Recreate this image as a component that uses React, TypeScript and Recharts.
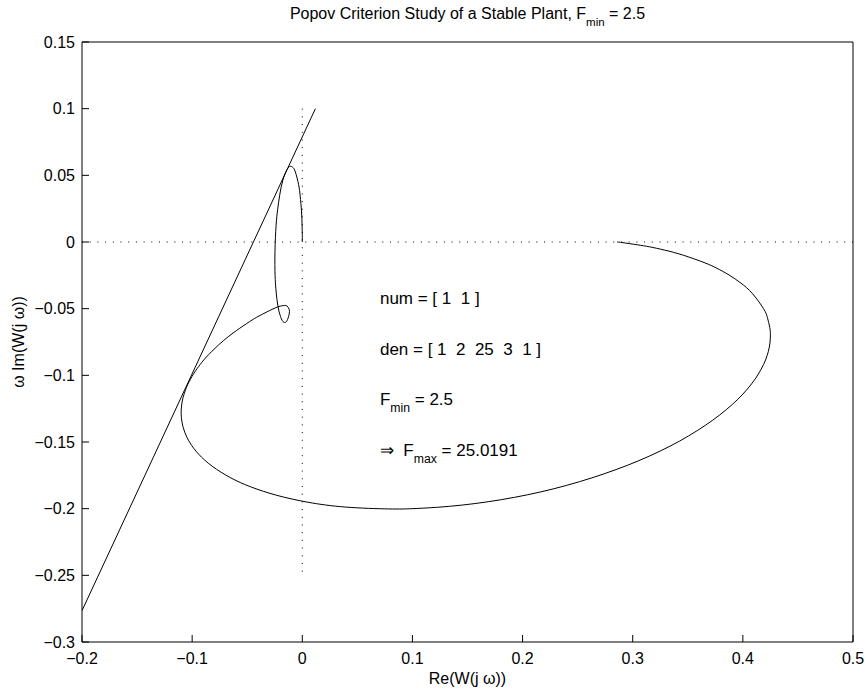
import React from 'react';
import { ComposedChart, Line, XAxis, YAxis, ReferenceLine, ReferenceDot } from 'recharts';

// Popov locus: Re(W(jw)) and w*Im(W(jw))
const popovRe = [0.2857, 0.2902, 0.3042, 0.3152, 0.3291, 0.3459, 0.3657, 0.3764, 0.3874, 0.3983, 0.4085, 0.4187, 0.4223, 0.4245, 0.425, 0.4246, 0.4232, 0.4206, 0.4166, 0.4112, 0.4042, 0.3955, 0.385, 0.3727, 0.3585, 0.3426, 0.3249, 0.3056, 0.2848, 0.2629, 0.2401, 0.2166, 0.1927, 0.1688, 0.1452, 0.1221, 0.0998, 0.0784, 0.0393, 0.0053, -0.0231, -0.0463, -0.0647, -0.0819, -0.094, -0.1019, -0.1067, -0.1092, -0.11, -0.1095, -0.1082, -0.1062, -0.1039, -0.0985, -0.0927, -0.087, -0.0764, -0.0673, -0.0596, -0.0478, -0.0393, -0.0266, -0.02, -0.0162, -0.0139, -0.0119, -0.012, -0.0139, -0.0157, -0.0182, -0.0212, -0.023, -0.024, -0.0247, -0.0248, -0.0238, -0.0224, -0.0206, -0.0176, -0.0127, -0.0089, -0.0063, -0.0033, -0.0019, -0.0007, -0.0002, 0, 0];
const popovIm = [0, -0.0004, -0.0021, -0.0036, -0.0061, -0.0099, -0.0157, -0.0197, -0.0247, -0.0309, -0.0385, -0.0499, -0.0567, -0.0643, -0.0698, -0.0757, -0.0819, -0.0885, -0.0954, -0.1027, -0.1102, -0.1179, -0.1257, -0.1336, -0.1415, -0.1493, -0.1568, -0.164, -0.1707, -0.1769, -0.1825, -0.1874, -0.1915, -0.1948, -0.1973, -0.199, -0.2, -0.2002, -0.1988, -0.1952, -0.19, -0.1838, -0.177, -0.1681, -0.1592, -0.1507, -0.1427, -0.1352, -0.1284, -0.1222, -0.1165, -0.1114, -0.1067, -0.0986, -0.0919, -0.0862, -0.0775, -0.0711, -0.0663, -0.0597, -0.0555, -0.0502, -0.0481, -0.0476, -0.048, -0.0504, -0.0545, -0.0591, -0.0603, -0.0589, -0.0518, -0.0431, -0.035, -0.0249, -0.007, 0.0122, 0.0242, 0.0347, 0.0465, 0.0558, 0.0562, 0.0526, 0.0429, 0.0344, 0.0233, 0.0128, 0.0049, 0];

// Popov line
const lineRe = [-0.2, 0.0119];
const lineIm = [-0.2765, 0.1];

// dotted axes through the origin
const hDotRe = [-0.2, 0.5];
const vDotIm = [0.1, -0.25];

const xTicks = [-0.2, -0.1, 0, 0.1, 0.2, 0.3, 0.4, 0.5];
const xTickLabels = ['\u22120.2', '\u22120.1', '0', '0.1', '0.2', '0.3', '0.4', '0.5'];
const yTicks = [0.15, 0.1, 0.05, 0, -0.05, -0.1, -0.15, -0.2, -0.25, -0.3];
const yTickLabels = ['0.15', '0.1', '0.05', '0', '\u22120.05', '\u22120.1', '\u22120.15', '\u22120.2', '\u22120.25', '\u22120.3'];

// annotations
type Part = { t: string; sub?: boolean };
const noteRe = [0.0705, 0.0705, 0.0705, 0.0705];
const noteIm = [-0.042, -0.08, -0.118, -0.156];
const noteTexts: Part[][] = [
  [{ t: 'num = [ 1  1 ]' }],
  [{ t: 'den = [ 1  2  25  3  1 ]' }],
  [{ t: 'F' }, { t: 'min', sub: true }, { t: ' = 2.5' }],
  [{ t: '\u21D2  F' }, { t: 'max', sub: true }, { t: ' = 25.0191' }],
];
const titleParts: Part[] = [{ t: 'Popov Criterion Study of a Stable Plant, F' }, { t: 'min', sub: true }, { t: ' = 2.5' }];
const xLabel = 'Re(W(j \u03C9))';
const yLabel = '\u03C9 Im(W(j \u03C9))';

const FONT = '"Liberation Sans", Arial, Helvetica, sans-serif';
const FS = 16;
const NOTE_FS = 17;

const curveData = popovRe.map((x, i) => ({ x, y: popovIm[i] }));
const lineData = lineRe.map((x, i) => ({ x, y: lineIm[i] }));

function rich(parts: Part[], x: number, y: number, anchor: 'start' | 'middle' | 'end', size: number) {
  let prevSub = false;
  const off = Math.round(size * 0.42);
  return (
    <text x={x} y={y} textAnchor={anchor} fontSize={size} fontFamily={FONT} fill="#000" style={{ whiteSpace: 'pre' }}>
      {parts.map((p, i) => {
        const sub = !!p.sub;
        const dy = sub && !prevSub ? off : !sub && prevSub ? -off : 0;
        prevSub = sub;
        return (
          <tspan key={i} dy={dy} fontSize={sub ? size * 0.72 : size}>
            {p.t}
          </tspan>
        );
      })}
    </text>
  );
}

const fmtX = (v: number) => {
  const i = xTicks.findIndex((t) => Math.abs(t - v) < 1e-9);
  return i >= 0 ? xTickLabels[i] : String(v);
};
const fmtY = (v: number) => {
  const i = yTicks.findIndex((t) => Math.abs(t - v) < 1e-9);
  return i >= 0 ? yTickLabels[i] : String(v);
};

export default function App() {
  const tickStyle = { fontSize: FS, fontFamily: FONT, fill: '#000' };
  return (
    <div style={{ position: 'absolute', left: 0, top: 0, background: '#fff' }}>
      <ComposedChart width={866} height={690} margin={{ top: 41, right: 12, bottom: 0, left: 22 }}>
        <XAxis
          xAxisId={0}
          dataKey="x"
          type="number"
          domain={[-0.2, 0.5]}
          ticks={xTicks}
          interval={0}
          allowDataOverflow
          tickFormatter={fmtX}
          tickSize={-7}
          tickMargin={18}
          height={48}
          stroke="#000"
          tick={tickStyle}
          label={{
            content: (p: any) => {
              const vb = p.viewBox;
              return rich([{ t: xLabel }], vb.x + vb.width / 2, vb.y + 42, 'middle', FS);
            },
          }}
        />
        <XAxis
          xAxisId="top"
          orientation="top"
          dataKey="x"
          type="number"
          domain={[-0.2, 0.5]}
          ticks={xTicks}
          interval={0}
          allowDataOverflow
          tick={false}
          tickSize={-7}
          height={1}
          stroke="#000"
          label={{
            content: (p: any) => {
              const vb = p.viewBox;
              return rich(titleParts, vb.x + vb.width / 2, vb.y - 22, 'middle', FS);
            },
          }}
        />
        <YAxis
          yAxisId={0}
          type="number"
          domain={[-0.3, 0.15]}
          ticks={yTicks}
          interval={0}
          allowDataOverflow
          tickFormatter={fmtY}
          tickSize={-7}
          tickMargin={14}
          width={60}
          stroke="#000"
          tick={tickStyle}
          label={{
            content: (p: any) => {
              const vb = p.viewBox;
              const cx = 18;
              const cy = vb.y + vb.height / 2;
              return (
                <text
                  x={cx}
                  y={cy}
                  transform={`rotate(-90 ${cx} ${cy})`}
                  textAnchor="middle"
                  dominantBaseline="central"
                  fontSize={FS}
                  fontFamily={FONT}
                  fill="#000"
                >
                  {yLabel}
                </text>
              );
            },
          }}
        />
        <YAxis
          yAxisId="right"
          orientation="right"
          type="number"
          domain={[-0.3, 0.15]}
          ticks={yTicks}
          interval={0}
          allowDataOverflow
          tick={false}
          tickSize={-7}
          width={1}
          stroke="#000"
        />
        <ReferenceLine
          segment={[{ x: hDotRe[0], y: 0 }, { x: hDotRe[1], y: 0 }]}
          stroke="#000"
          strokeDasharray="1 6.7"
          ifOverflow="visible"
        />
        <ReferenceLine
          segment={[{ x: 0, y: vDotIm[0] }, { x: 0, y: vDotIm[1] }]}
          stroke="#000"
          strokeDasharray="1 6.7"
          ifOverflow="visible"
        />
        <Line
          data={lineData}
          dataKey="y"
          type="linear"
          dot={false}
          stroke="#000"
          strokeWidth={1}
          isAnimationActive={false}
        />
        <Line
          data={curveData}
          dataKey="y"
          type="natural"
          dot={false}
          stroke="#000"
          strokeWidth={1}
          isAnimationActive={false}
        />
        {noteTexts.map((parts, i) => (
          <ReferenceDot
            key={i}
            x={noteRe[i]}
            y={noteIm[i]}
            r={1}
            fill="none"
            stroke="none"
            ifOverflow="visible"
            label={{
              content: (p: any) => {
                const vb = p.viewBox;
                const cx = vb.x + (vb.width || 0) / 2;
                const cy = vb.y + (vb.height || 0) / 2;
                return rich(parts, cx, cy + 6, 'start', NOTE_FS);
              },
            }}
          />
        ))}
      </ComposedChart>
    </div>
  );
}
